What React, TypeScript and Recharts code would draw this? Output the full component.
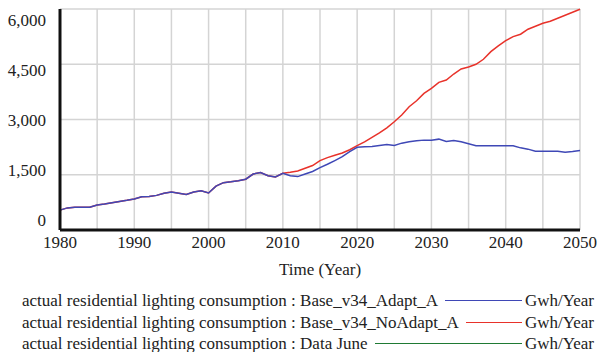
import React from "react"
import { LineChart, Line, XAxis, YAxis, CartesianGrid } from "recharts"

// yearly values, Gwh/Year
const years = Array.from({ length: 71 }, (_, i) => 1980 + i)

const adaptValues = [
  540, 600, 620, 620, 620, 680, 705, 740, 775, 805,
  840, 905, 910, 940, 1000, 1030, 1000, 965, 1030, 1065,
  1005, 1190, 1285, 1310, 1340, 1380, 1520, 1560, 1475, 1440,
  1540, 1475, 1450, 1520, 1590, 1695, 1785, 1885, 1990, 2130,
  2245, 2258, 2267, 2294, 2322, 2294, 2358, 2394, 2421, 2440,
  2440, 2467, 2404, 2431, 2394, 2340, 2285, 2285, 2285, 2285,
  2285, 2285, 2230, 2195, 2140, 2140, 2140, 2140, 2113, 2130,
  2160,
]

const noAdaptValues = [
  540, 600, 620, 620, 620, 680, 705, 740, 775, 805,
  840, 905, 910, 940, 1000, 1030, 1000, 965, 1030, 1065,
  1005, 1190, 1285, 1310, 1340, 1380, 1520, 1560, 1475, 1440,
  1540, 1565, 1600, 1675, 1750, 1885, 1965, 2030, 2090, 2180,
  2290, 2394, 2513, 2638, 2774, 2938, 3120, 3346, 3509, 3710,
  3846, 4009, 4072, 4235, 4371, 4425, 4500, 4635, 4842, 4997,
  5141, 5250, 5315, 5451, 5532, 5614, 5668, 5750, 5832, 5913,
  5995,
]

// no observations fall in this run
const dataJuneValues: (number | null)[] = []

const gridYears = [1980, 1985, 1990, 1995, 2000, 2005, 2010, 2015, 2020, 2025, 2030, 2035, 2040, 2045, 2050]
const yTicks = [0, 1500, 3000, 4500, 6000]

const series = [
  { key: "adapt", label: "actual residential lighting consumption : Base_v34_Adapt_A", color: "#3f48b6" },
  { key: "noAdapt", label: "actual residential lighting consumption : Base_v34_NoAdapt_A", color: "#e8322a" },
  { key: "dataJune", label: "actual residential lighting consumption : Data June", color: "#1f7a34" },
]

const rows = years.map((year, i) => ({
  year,
  adapt: adaptValues[i],
  noAdapt: noAdaptValues[i],
  dataJune: dataJuneValues[i] ?? null,
}))

const FONT = "Liberation Serif"
const FS = 17
const FRAME = { stroke: "#111", strokeWidth: 3 }

// Vensim spreads the value labels a little tighter than the grid
const YTick = (props: any) => {
  const { x, y, payload } = props
  const ly = 20 + ((y - 9) * 200) / 221
  return (
    <text x={x} y={ly} dy="0.35em" textAnchor="end" fill="#222" fontSize={FS} style={{ fontFamily: FONT }}>
      {payload.value.toLocaleString("en-US")}
    </text>
  )
}

export default function App() {
  return (
    <div style={{ position: "absolute", left: 0, top: 0, width: 599, height: 352, background: "#fff", fontFamily: FONT }}>
      <LineChart width={599} height={280} data={rows} margin={{ top: 9, right: 19, left: 0, bottom: 5 }} style={{ fontFamily: FONT }}>
        <CartesianGrid stroke="#d4d4d4" strokeWidth={1.5} />
        <XAxis
          dataKey="year"
          type="number"
          domain={[1980, 2050]}
          ticks={gridYears}
          interval={0}
          tickFormatter={(v: number) => (v % 10 === 0 ? String(v) : "")}
          tickLine={false}
          tickSize={0}
          tickMargin={6}
          height={45}
          axisLine={FRAME}
          tick={{ fill: "#222", fontSize: FS, fontFamily: FONT }}
          label={{ value: "Time (Year)", position: "insideBottom", offset: 0, fill: "#222", fontSize: FS, fontFamily: FONT }}
        />
        <XAxis xAxisId="top" orientation="top" dataKey="year" type="number" domain={[1980, 2050]} height={0} tick={false} tickLine={false} axisLine={FRAME} />
        <YAxis
          type="number"
          domain={[0, 6000]}
          ticks={yTicks}
          interval={0}
          width={60}
          tickLine={false}
          tickSize={0}
          tickMargin={14}
          axisLine={FRAME}
          tick={<YTick />}
        />
        <YAxis yAxisId="right" orientation="right" domain={[0, 6000]} width={0} tick={false} tickLine={false} axisLine={FRAME} />
        <Line dataKey="noAdapt" type="linear" stroke={series[1].color} strokeWidth={1.5} dot={false} isAnimationActive={false} />
        <Line dataKey="adapt" type="linear" stroke={series[0].color} strokeWidth={1.5} dot={false} isAnimationActive={false} />
        <Line dataKey="dataJune" type="linear" stroke={series[2].color} strokeWidth={1.5} dot={false} isAnimationActive={false} />
      </LineChart>
      <div style={{ position: "absolute", left: 22, top: 290, width: 572, fontSize: FS, lineHeight: "21.5px", color: "#222" }}>
        {series.map((s) => (
          <div key={s.key} style={{ display: "flex", alignItems: "center", whiteSpace: "nowrap" }}>
            <span>{s.label}</span>
            <span style={{ flex: 1, borderTop: `1.5px solid ${s.color}`, margin: "0 3px 0 7px" }} />
            <span>Gwh/Year</span>
          </div>
        ))}
      </div>
    </div>
  )
}
